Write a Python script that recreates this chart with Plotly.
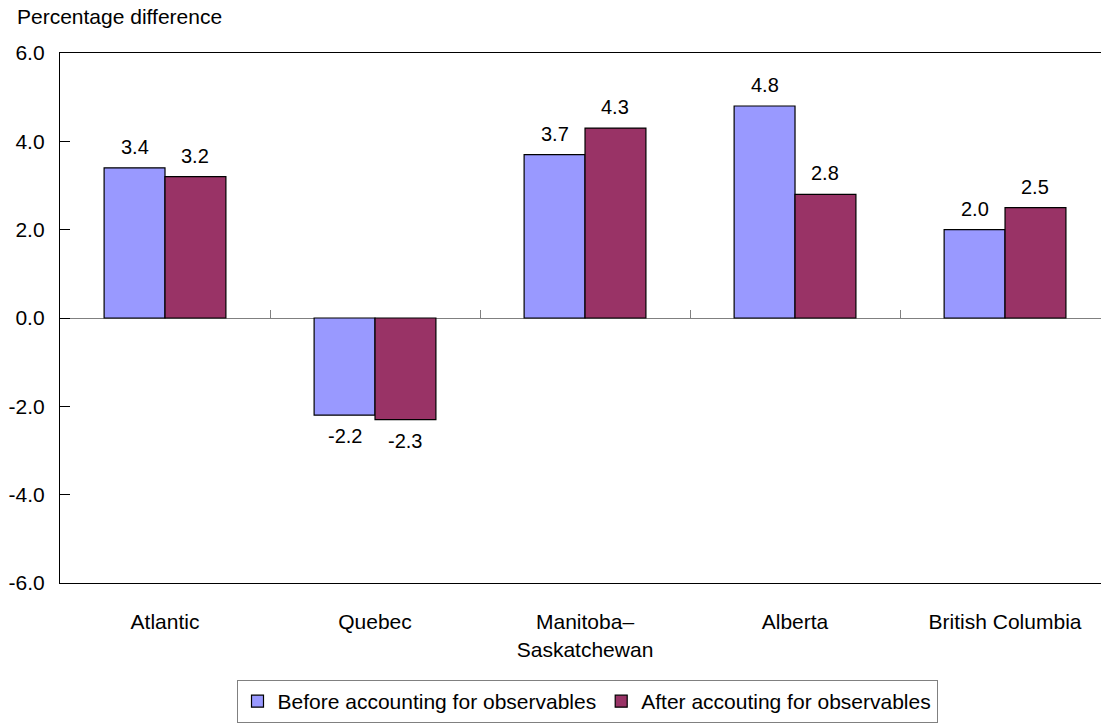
import plotly.graph_objects as go

# Regions and percentage differences
regions = ["Atlantic", "Quebec", "Manitoba–<br>Saskatchewan", "Alberta", "British Columbia"]
before_obs = [3.4, -2.2, 3.7, 4.8, 2.0]
after_obs = [3.2, -2.3, 4.3, 2.8, 2.5]
y_ticks = [-6.0, -4.0, -2.0, 0.0, 2.0, 4.0, 6.0]
y_tick_text = [f"{v:.1f}" for v in y_ticks]

names = ["Before accounting for observables", "After accouting for observables"]
colors = ["#9999FF", "#993366"]
FONT = "Arial, 'Liberation Sans', sans-serif"
FS = 21

fig = go.Figure()
for name, vals, col in zip(names, [before_obs, after_obs], colors):
    fig.add_trace(go.Bar(
        x=regions, y=vals, name=name,
        marker=dict(color=col, line=dict(color="#000000", width=1.2)),
    ))

# value labels above/below each bar
annotations = []
for k, vals in enumerate([before_obs, after_obs]):
    shift = -30 if k == 0 else 30
    for cat, v in zip(regions, vals):
        annotations.append(dict(
            x=cat, y=v, text=f"{v:.1f}", showarrow=False,
            xshift=shift, yshift=8 if v >= 0 else -8,
            yanchor="bottom" if v >= 0 else "top",
            font=dict(family=FONT, size=20, color="#000000"),
        ))

fig.update_layout(
    width=1101, height=725,
    margin=dict(l=60, r=0, t=53, b=142),
    paper_bgcolor="white", plot_bgcolor="white",
    barmode="group", bargap=0.42, bargroupgap=0,
    font=dict(family=FONT, size=FS, color="#000000"),
    title=dict(text="Percentage difference", x=17 / 1101, xanchor="left",
               xref="container", y=1 - 9 / 725, yanchor="top", yref="container",
               font=dict(family=FONT, size=FS, color="#000000")),
    showlegend=True,
    legend=dict(orientation="h", xref="container", yref="container",
                x=587 / 1101, xanchor="center", y=1 - 680 / 725, yanchor="top",
                bordercolor="#808080", borderwidth=1, itemwidth=30,
                font=dict(family=FONT, size=FS, color="#000000"),
                itemclick=False, traceorder="normal"),
    annotations=annotations,
    xaxis=dict(
        type="category", range=[-0.5, 4.457],
        showline=True, linecolor="#000000", linewidth=1.3, mirror=True,
        ticks="", showgrid=False, zeroline=False,
        ticklabelstandoff=20,
        tickfont=dict(family=FONT, size=FS, color="#000000"),
    ),
    xaxis2=dict(
        overlaying="x", anchor="free", position=0.5, range=[-0.5, 4.457],
        tickvals=[0.5, 1.5, 2.5, 3.5], ticks="inside", ticklen=8,
        tickcolor="#808080", tickwidth=1, showticklabels=False,
        showline=False, showgrid=False, zeroline=False,
    ),
    yaxis=dict(
        range=[-6, 6], tickvals=y_ticks, ticktext=y_tick_text,
        showline=True, linecolor="#000000", linewidth=1.3,
        ticks="inside", ticklen=10, tickcolor="#000000",
        showgrid=False, zeroline=True, zerolinecolor="#808080", zerolinewidth=1.3,
        ticklabelstandoff=10,
        tickfont=dict(family=FONT, size=FS, color="#000000"),
    ),
)

# invisible trace so the secondary axis is laid out
fig.add_trace(go.Scatter(x=[0.5], y=[0], xaxis="x2", mode="markers",
                         marker=dict(opacity=0), showlegend=False, hoverinfo="skip"))

fig.write_html("out.html")
